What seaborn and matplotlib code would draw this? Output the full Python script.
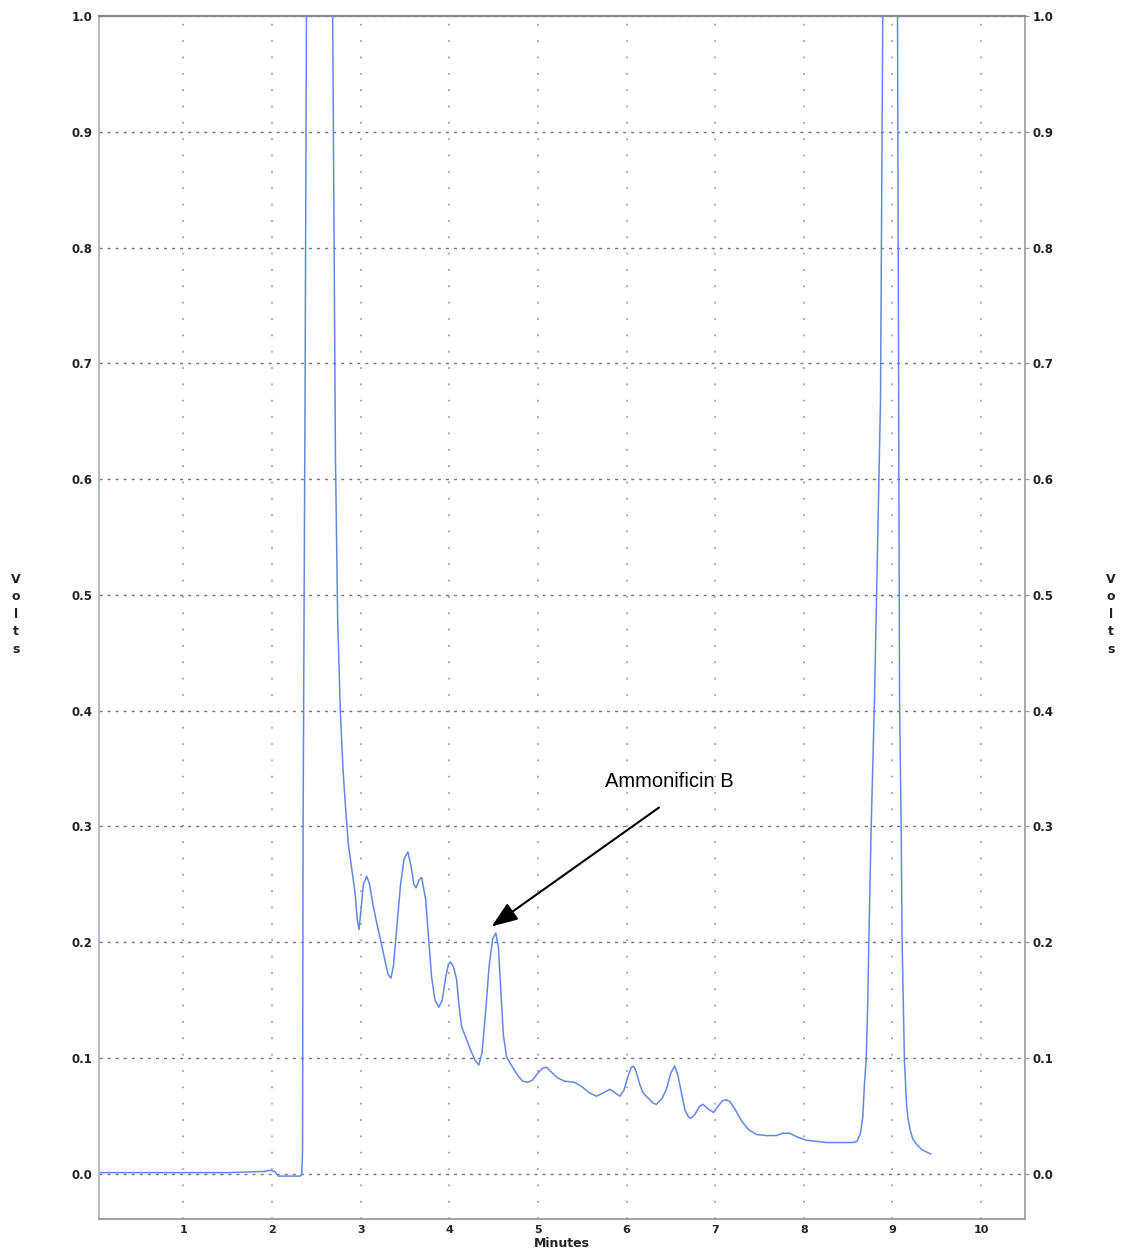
import matplotlib
matplotlib.use("Agg")
import matplotlib.pyplot as plt
import seaborn as sns
import pandas as pd

# Chromatogram trace: retention time (minutes) and detector signal (volts).
# Readings above 1.0 V are off-scale (detector saturated) and get clipped.
minutes = [
    0.05, 0.5, 1.0, 1.5, 1.9, 1.98, 2.03, 2.07, 2.2, 2.32, 2.335,
    2.344, 2.35, 2.372, 2.388, 2.40, 2.67, 2.684, 2.70, 2.715, 2.74, 2.77,
    2.80, 2.823, 2.842, 2.86, 2.879, 2.913, 2.94, 2.96, 2.981, 3.00, 3.03,
    3.068, 3.10, 3.14, 3.18, 3.23, 3.28, 3.31, 3.342, 3.37, 3.41, 3.45,
    3.49, 3.533, 3.57, 3.60, 3.624, 3.66, 3.688, 3.733, 3.77, 3.80, 3.838,
    3.883, 3.92, 3.96, 3.99, 4.015, 4.05, 4.082, 4.11, 4.139, 4.19, 4.24,
    4.29, 4.334, 4.37, 4.41, 4.45, 4.49, 4.525, 4.555, 4.58, 4.61, 4.646,
    4.683, 4.73, 4.78, 4.83, 4.886, 4.94, 5.00, 5.05, 5.097, 5.15, 5.22,
    5.30, 5.415, 5.50, 5.58, 5.661, 5.74, 5.812, 5.87, 5.923, 5.97, 6.02,
    6.055, 6.081, 6.11, 6.15, 6.186, 6.25, 6.30, 6.337, 6.40, 6.45, 6.50,
    6.543, 6.58, 6.619, 6.66, 6.70, 6.724, 6.77, 6.82, 6.863, 6.92, 6.983,
    7.03, 7.08, 7.126, 7.17, 7.23, 7.28, 7.314, 7.38, 7.464, 7.58, 7.69,
    7.76, 7.84, 7.92, 8.028, 8.15, 8.254, 8.40, 8.554, 8.60, 8.64, 8.666,
    8.686, 8.704, 8.723, 8.734, 8.761, 8.798, 8.866, 8.892, 8.90, 9.05,
    9.058, 9.07, 9.081, 9.099, 9.11, 9.136, 9.16, 9.174, 9.20, 9.23, 9.268,
    9.33, 9.38, 9.437,
]
volts = [
    0.001, 0.001, 0.001, 0.001, 0.002, 0.003, 0.002, -0.002, -0.002, -0.002, 0.0,
    0.02, 0.30, 0.668, 1.0, 1.25, 1.25, 1.0, 0.80, 0.62, 0.48, 0.40,
    0.35, 0.323, 0.303, 0.285, 0.274, 0.256, 0.24, 0.22, 0.211, 0.225, 0.25,
    0.257, 0.25, 0.232, 0.217, 0.20, 0.182, 0.172, 0.169, 0.18, 0.215, 0.25,
    0.272, 0.278, 0.265, 0.25, 0.247, 0.254, 0.256, 0.237, 0.20, 0.17, 0.15,
    0.144, 0.15, 0.17, 0.181, 0.183, 0.178, 0.168, 0.145, 0.127, 0.117, 0.107,
    0.098, 0.094, 0.105, 0.14, 0.18, 0.203, 0.208, 0.195, 0.16, 0.12, 0.101,
    0.096, 0.09, 0.084, 0.08, 0.079, 0.081, 0.087, 0.091, 0.092, 0.088, 0.083,
    0.08, 0.079, 0.075, 0.07, 0.067, 0.07, 0.073, 0.07, 0.067, 0.072, 0.085,
    0.092, 0.093, 0.088, 0.077, 0.07, 0.065, 0.061, 0.06, 0.065, 0.073, 0.087,
    0.093, 0.085, 0.07, 0.055, 0.049, 0.048, 0.051, 0.058, 0.06, 0.056, 0.053,
    0.058, 0.063, 0.064, 0.062, 0.055, 0.048, 0.044, 0.038, 0.034, 0.033, 0.033,
    0.035, 0.035, 0.032, 0.029, 0.028, 0.027, 0.027, 0.027, 0.028, 0.035, 0.049,
    0.079, 0.098, 0.15, 0.199, 0.30, 0.409, 0.668, 1.0, 1.25, 1.25,
    1.0, 0.70, 0.409, 0.30, 0.20, 0.098, 0.06, 0.049, 0.038, 0.03, 0.026,
    0.021, 0.019, 0.017,
]

x_ticks = [1, 2, 3, 4, 5, 6, 7, 8, 9, 10]
y_ticks = [0.0, 0.1, 0.2, 0.3, 0.4, 0.5, 0.6, 0.7, 0.8, 0.9, 1.0]

peak_label = "Ammonificin B"
peak_time, peak_volts = 4.477, 0.2136
label_time, label_volts = 6.487, 0.3385
arrow_tail_time, arrow_tail_volts = 6.366, 0.3163

sns.set_theme(style="white")
plt.rcParams["font.family"] = ["DejaVu Sans"]

fig = plt.figure(figsize=(11.23, 12.56), dpi=100)
ax = fig.add_axes([0.0884, 0.0295, 0.8246, 0.9578])

df = pd.DataFrame({"Minutes": minutes, "Volts": volts})
sns.lineplot(data=df, x="Minutes", y="Volts", ax=ax, estimator=None, sort=False,
             color="#6388e2", linewidth=1.1, zorder=3)

ax.set_xlim(0.05, 10.5)
ax.set_ylim(-0.039, 1.0)

# grid: sparse dots for the minute lines, short dashes for the volt lines
ax.set_xticks(x_ticks)
ax.set_xticklabels([str(t) for t in x_ticks], fontsize=8, fontweight="bold", color="#222222")
ax.set_yticks(y_ticks)
ax.set_yticklabels([f"{t:.1f}" for t in y_ticks], fontsize=8.5, fontweight="bold", color="#222222")
ax.xaxis.grid(True, color="#8d94a4", linewidth=1.1, linestyle=(0, (1.2, 9.5)), zorder=1)
ax.yaxis.grid(True, color="#6f7686", linewidth=1.0, linestyle=(0, (2.2, 3.6)), zorder=1)

ax.tick_params(axis="x", length=0, pad=4)
ax.tick_params(axis="y", left=False, right=True, labelleft=True, labelright=True,
               length=3, width=1, color="#999999", pad=2)

ax.set_xlabel("Minutes", fontsize=9, fontweight="bold", labelpad=2, color="#222222")
ax.set_ylabel("")

for side, col, lw in [("top", "#8a8a8a", 1.6), ("bottom", "#9a9a9a", 1.3),
                      ("left", "#aab3c8", 1.3), ("right", "#a3a3a3", 1.3)]:
    ax.spines[side].set_visible(True)
    ax.spines[side].set_color(col)
    ax.spines[side].set_linewidth(lw)
    ax.spines[side].set_zorder(4)

# stacked axis titles on both sides
for xpos in (0.0142, 0.989):
    fig.text(xpos, 0.511, "V\no\nl\nt\ns", ha="center", va="center", fontsize=9,
             fontweight="bold", linespacing=1.45, color="#222222")

ax.text(label_time, label_volts, peak_label, ha="center", va="center",
        fontsize=14.5, family=["Liberation Sans", "DejaVu Sans"], color="black", zorder=5)
ax.annotate("", xy=(peak_time, peak_volts), xytext=(arrow_tail_time, arrow_tail_volts),
            arrowprops=dict(arrowstyle="-|>,head_length=0.8,head_width=0.3",
                            color="black", lw=1.5, mutation_scale=20,
                            shrinkA=0, shrinkB=0), zorder=5)

fig.savefig("out.png", dpi=100)
